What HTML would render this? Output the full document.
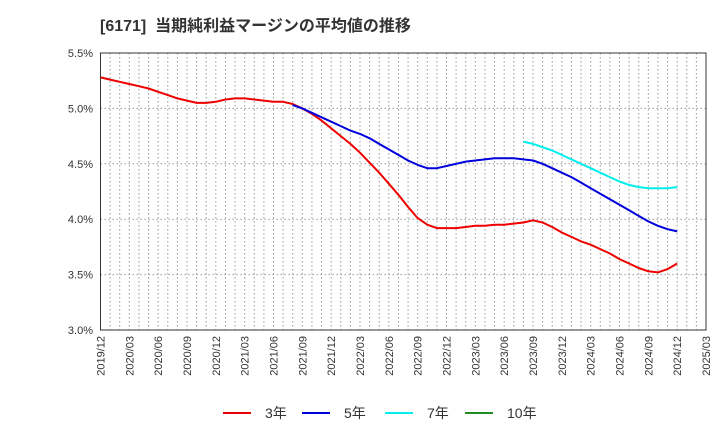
<!DOCTYPE html>
<html><head><meta charset="utf-8"><style>
body{margin:0;background:#fff;width:720px;height:440px;overflow:hidden;font-family:"Liberation Sans","Noto Sans CJK JP",sans-serif}
</style></head><body>
<svg id="c" width="720" height="440" xmlns="http://www.w3.org/2000/svg">
<text x="100" y="31" font-size="16" font-weight="bold" fill="#333" xml:space="preserve" font-family="Liberation Sans, Noto Sans CJK JP, sans-serif">[6171]  当期純利益マージンの平均値の推移</text>
</svg>
<script>
const yTicks=[3.0,3.5,4.0,4.5,5.0,5.5];
const yTickLabels=["3.0%","3.5%","4.0%","4.5%","5.0%","5.5%"];
const xTickLabels=["2019/12","2020/03","2020/06","2020/09","2020/12","2021/03","2021/06","2021/09","2021/12","2022/03","2022/06","2022/09","2022/12","2023/03","2023/06","2023/09","2023/12","2024/03","2024/06","2024/09","2024/12","2025/03"];
const s3=[5.28,5.26,5.24,5.22,5.20,5.18,5.15,5.12,5.09,5.07,5.05,5.05,5.06,5.08,5.09,5.09,5.08,5.07,5.06,5.06,5.04,5.00,4.95,4.89,4.82,4.75,4.68,4.60,4.51,4.42,4.32,4.22,4.11,4.01,3.95,3.92,3.92,3.92,3.93,3.94,3.94,3.95,3.95,3.96,3.97,3.99,3.97,3.93,3.88,3.84,3.80,3.77,3.73,3.69,3.64,3.60,3.56,3.53,3.52,3.55,3.60];
const s5start=20;
const s5=[5.03,5.00,4.96,4.92,4.88,4.84,4.80,4.77,4.73,4.68,4.63,4.58,4.53,4.49,4.46,4.46,4.48,4.50,4.52,4.53,4.54,4.55,4.55,4.55,4.54,4.53,4.50,4.46,4.42,4.38,4.33,4.28,4.23,4.18,4.13,4.08,4.03,3.98,3.94,3.91,3.89];
const s7start=44;
const s7=[4.70,4.68,4.65,4.62,4.58,4.54,4.50,4.46,4.42,4.38,4.34,4.31,4.29,4.28,4.28,4.28,4.29];
const s10=[];
const NS="http://www.w3.org/2000/svg";
const svg=document.getElementById('c');
const L=100.5,R=706,T=53,B=330,months=63;
const X=i=>L+(R-L)*i/months;
const Y=v=>B-(v-3.0)/2.5*(B-T);
function el(t,a,p){const e=document.createElementNS(NS,t);for(const k in a)e.setAttribute(k,a[k]);(p||svg).appendChild(e);return e;}
for(let m=1;m<months;m++){
const g=el('line',{x1:X(m),x2:X(m),y1:T,y2:B,stroke:'#999','stroke-dasharray':'1.5,2.5','stroke-width':1});


}
yTicks.forEach((v,i)=>{
if(v>3.0&&v<5.5){const g=el('line',{x1:L,x2:R,y1:Y(v),y2:Y(v),stroke:'#999','stroke-dasharray':'1.5,2.5'});

}
const t=el('text',{x:93,y:Y(v)+4,'text-anchor':'end','font-size':11,fill:'#333'});
t.textContent=yTickLabels[i];


});
xTickLabels.forEach((s,i)=>{
const x=X(i*3)+4;
const t=el('text',{x:x,y:336,'text-anchor':'end','font-size':11,fill:'#333',transform:`rotate(-90 ${x} 336)`});
t.textContent=s;


});
const frame=el('rect',{x:L,y:T,width:R-L,height:B-T,fill:'none',stroke:'#333','stroke-width':1});


function series(arr,start,color,name){
if(!arr.length)return;
const d=arr.map((v,i)=>(i?'L':'M')+X(start+i).toFixed(1)+','+Y(v).toFixed(1)).join(' ');
const p=el('path',{d:d,fill:'none',stroke:color,'stroke-width':2,'stroke-linejoin':'round'});


}
series(s3,0,'#ee0000','line-3yr');
series(s5,s5start,'#0000dd','line-5yr');
series(s7,s7start,'#00eeee','line-7yr');
series(s10,0,'#228b22','line-10yr');
const leg=[["3年","#ee0000",223],["5年","#0000dd",302],["7年","#00eeee",385],["10年","#228b22",465]];
leg.forEach(([lab,c,x])=>{
const g=el('g',{});


el('line',{x1:x,x2:x+28,y1:413,y2:413,stroke:c,'stroke-width':2},g);
const t=el('text',{x:x+42,y:418,'font-size':14,fill:'#333'},g);
t.textContent=lab;
});
</script>
</body></html>
